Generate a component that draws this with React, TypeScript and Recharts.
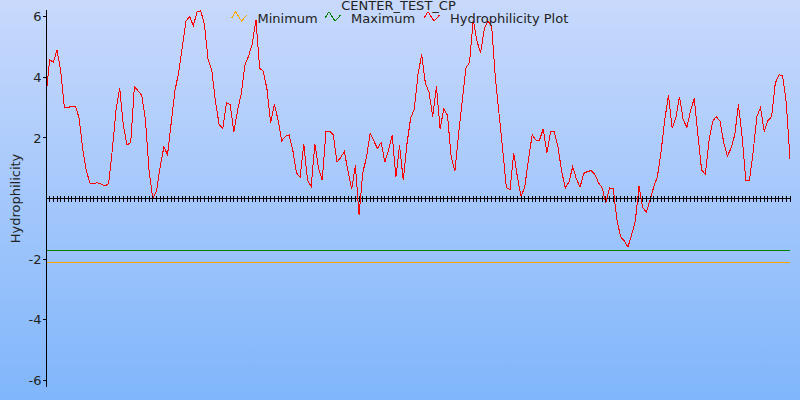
import React from 'react';
import { LineChart, Line, XAxis, YAxis } from 'recharts';

const chartTitle = 'CENTER_TEST_CP';
const yAxisLabel = 'Hydrophilicity';
const yTicks = [-6, -4, -2, 2, 4, 6];

// horizontal levels shown in the legend
const minimumLevel = -2.1;
const maximumLevel = -1.7;

// hydrophilicity per residue window
const hydrophilicity = [
  3.4, 4.57, 4.5, 4.9, 4.2, 3.0, 3.0, 3.05, 3.05, 2.65,
  1.6, 0.88, 0.5, 0.5, 0.52, 0.48, 0.41, 0.5, 1.6, 2.9,
  3.65, 2.4, 1.77, 1.84, 3.7, 3.55, 3.4, 2.6, 0.9, 0.0,
  0.25, 1.05, 1.7, 1.45, 2.5, 3.55, 4.15, 5.0, 5.85, 6.0,
  5.7, 6.15, 6.2, 5.75, 4.6, 4.24, 3.2, 2.45, 2.3, 3.16,
  3.1, 2.2, 2.9, 3.45, 4.4, 4.7, 5.1, 5.9, 4.3, 4.2,
  3.6, 2.5, 3.1, 2.6, 1.9, 2.05, 2.1, 1.6, 0.84, 0.7,
  1.8, 0.6, 0.4, 1.8, 1.0, 0.6, 2.2, 2.22, 2.1, 1.2,
  1.35, 1.55, 0.9, 0.3, 1.1, -0.55, 0.85, 1.35, 2.15, 1.9,
  1.65, 1.85, 1.2, 1.6, 2.1, 0.7, 1.75, 0.6, 1.8, 2.65,
  2.95, 4.1, 4.75, 3.8, 3.5, 2.7, 3.7, 2.3, 2.95, 2.75,
  1.4, 0.9, 2.1, 3.2, 4.3, 4.5, 5.9, 5.2, 4.8, 5.6,
  5.85, 5.7, 4.0, 2.8, 1.6, 0.35, 0.3, 1.5, 0.7, 0.05,
  0.4, 1.3, 2.1, 1.93, 1.93, 2.3, 1.5, 2.2, 2.2, 1.7,
  0.9, 0.35, 0.55, 1.05, 0.65, 0.38, 0.83, 0.89, 0.92, 0.8,
  0.52, 0.35, -0.15, 0.35, 0.33, -0.7, -1.26, -1.4, -1.6, -1.2,
  -0.75, 0.4, -0.3, -0.45, -0.05, 0.38, 0.72, 1.55, 2.6, 3.4,
  2.32, 2.65, 3.36, 2.6, 2.35, 2.9, 3.3, 2.1, 0.94, 0.8,
  1.9, 2.55, 2.7, 2.55, 1.85, 1.4, 1.66, 2.1, 3.1, 2.04,
  0.6, 0.6, 1.55, 2.7, 3.0, 2.2, 2.57, 2.7, 3.8, 4.08,
  4.05, 3.15, 1.3,
];

const data = hydrophilicity.map((value, i) => ({
  position: i + 1,
  hydro: value,
  minimum: minimumLevel,
  maximum: maximumLevel,
  zero: 0,
}));

const legendItems = [
  { name: 'Minimum', color: '#ffa500', x: 231.5 },
  { name: 'Maximum', color: '#008000', x: 325 },
  { name: 'Hydrophilicity Plot', color: '#ff0000', x: 424 },
];

// little "+" marks along the zero line
const CrossDot = (props: any) => {
  const { cx, cy } = props;
  if (cx == null || cy == null) return null;
  return (
    <line
      x1={cx}
      x2={cx}
      y1={cy - 3}
      y2={cy + 3}
      stroke="#000"
      strokeWidth={1}
      shapeRendering="crispEdges"
    />
  );
};

const font = '"DejaVu Sans", Verdana, sans-serif';

export default function App() {
  return (
    <div
      style={{
        position: 'absolute',
        left: 0,
        top: 0,
        width: 800,
        height: 400,
        background: 'linear-gradient(to bottom, #c8d9fc, #80b6fb)',
        fontFamily: font,
      }}
    >
      <LineChart width={800} height={400} data={data} margin={{ top: 10, right: 10, bottom: 13, left: 0 }}>
        <XAxis dataKey="position" hide />
        <YAxis
          domain={[-6.22, 6.22]}
          ticks={yTicks}
          width={46}
          tickSize={3}
          tickMargin={1.5}
          tick={{ fill: '#222', fontSize: 13, fontFamily: font }}
          axisLine={{ stroke: '#000', strokeWidth: 1, shapeRendering: 'crispEdges' }}
          tickLine={{ stroke: '#000', shapeRendering: 'crispEdges' }}
        />
        <Line dataKey="minimum" stroke="#ffa500" strokeWidth={1} dot={false} isAnimationActive={false} shapeRendering="crispEdges" />
        <Line dataKey="maximum" stroke="#008000" strokeWidth={1} dot={false} isAnimationActive={false} shapeRendering="crispEdges" />
        <Line dataKey="zero" stroke="#000" strokeWidth={1} dot={<CrossDot />} isAnimationActive={false} shapeRendering="crispEdges" />
        <Line type="linear" dataKey="hydro" stroke="#ff0000" strokeWidth={1} dot={false} isAnimationActive={false} shapeRendering="crispEdges" />
      </LineChart>
      <svg
        width={800}
        height={400}
        style={{ position: 'absolute', left: 0, top: 0, pointerEvents: 'none' }}
        fontFamily={font}
      >
        <text x={398.5} y={9.5} textAnchor="middle" fontSize={13} fill="#222">
          {chartTitle}
        </text>
        {legendItems.map((item) => (
          <g key={item.name}>
            <polyline
              points={`${item.x},18.3 ${item.x + 4},11.7 ${item.x + 10},21 ${item.x + 15.6},15`}
              fill="none"
              stroke={item.color}
              strokeWidth={1}
              shapeRendering="crispEdges"
            />
            <text x={item.x + 26} y={22.5} fontSize={13} fill="#222">
              {item.name}
            </text>
          </g>
        ))}
        <text
          x={0}
          y={0}
          transform="translate(19.5 198.5) rotate(-90)"
          textAnchor="middle"
          fontSize={13}
          fill="#222"
        >
          {yAxisLabel}
        </text>
      </svg>
    </div>
  );
}
